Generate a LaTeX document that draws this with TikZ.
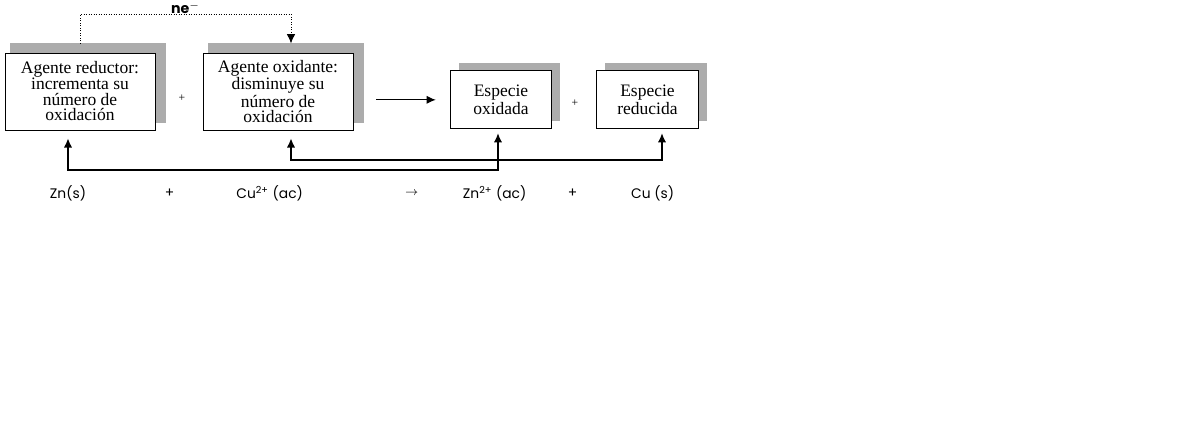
\documentclass[tikz,border=0pt]{standalone}
\usepackage{fontspec}
\setmainfont{Liberation Serif}
\newfontfamily\eqfont{Poppins}
\usetikzlibrary{arrows, arrows.meta, shadows, positioning}
\tikzset{
    boxnode/.style = {draw, rectangle, fill=white, line width=0.5pt, align=center, 
      node distance=0em, inner sep=0em, font=\fontsize{10.5}{9.4}\selectfont},
    bignode/.style = {boxnode, minimum width=90pt, minimum height=46.2pt, 
      general shadow={fill=gray!65, shadow xshift=4.8pt, shadow yshift=5.1pt, shadow scale=1.04}},
    smallnode/.style = {boxnode, minimum width=61pt, minimum height=34.8pt, 
      general shadow={fill=gray!65, shadow xshift=5pt, shadow yshift=4.5pt}},
    plusnode/.style = {draw=none, inner sep=0em, font=\scriptsize},
    eqnode/.style = {draw=none, inner sep=0em, node distance=0em, font=\eqfont\fontsize{8.3}{9}\selectfont},
    connect/.style = {black, line width=0.7pt, -{Latex[length=5.5pt, width=5pt]}},
    both/.style = {black, line width=0.8pt, {Latex[length=5.5pt, width=5pt]}-{Latex[length=5.5pt, width=5pt]}},
    transfer/.style = {black, densely dotted, line width=0.5pt, -{Latex[length=5.5pt, width=5pt]}}
}

\begin{document}
\begin{tikzpicture}[x=0.6pt, y=-0.6pt]
\useasboundingbox (0,0) rectangle (1200,433);

\node [bignode, name=reductor] at (80,91.5) {Agente reductor:\\incrementa su\\número de\\oxidación};
\node [bignode, name=oxidante, right of = reductor, xshift=118.8pt] {Agente oxidante:\\disminuye su\\número de\\oxidación};
\node [smallnode, name=oxidada, right of = oxidante, xshift=133.8pt, yshift=-5pt] {Especie\\oxidada};
\node [smallnode, name=reducida, right of = oxidada, xshift=87.9pt] {Especie\\reducida};

\node [plusnode, name=plusleft] at (182,98) {+};
\node [plusnode, name=plusright] at (575,103) {+};

\draw [connect, shorten <=13.8pt, shorten >=8.4pt] (oxidante.east |- oxidada.west) -- (oxidada.west);

% electrones transferidos
\draw [transfer] ([yshift=5.5pt]reductor.north) -- ++(0,-29) 
    -| node[pos=0.25, above, inner sep=0.2pt, font=\eqfont\bfseries\fontsize{8.5}{9}\selectfont] {ne$^-$} 
    ([xshift=7.8pt, yshift=5.5pt]oxidante.north);

\coordinate (lowrow) at (0,170);
\coordinate (highrow) at (0,160);
\draw [both, shorten <=4.8pt, shorten >=2.4pt] ([xshift=-7.2pt]reductor.south) 
    -- ([xshift=-7.2pt]reductor.south |- lowrow) -| ([xshift=-1.8pt]oxidada.south);
\draw [both, shorten <=4.8pt, shorten >=2.4pt] ([xshift=7.8pt]oxidante.south) 
    -- ([xshift=7.8pt]oxidante.south |- highrow) -| ([xshift=8.7pt]reducida.south);

% ecuacion
\node [eqnode, name=zn] at (68,193) {Zn(s)};
\node [eqnode, name=plusone, right of = zn, xshift=61pt] {+};
\node [eqnode, name=cu, right of = plusone, xshift=60pt] {Cu\textsuperscript{2+} (ac)};
\node [eqnode, name=yields, right of = cu, xshift=85.2pt] {\scriptsize$\rightarrow$};
\node [eqnode, name=zntwo, right of = yields, xshift=49.8pt] {Zn\textsuperscript{2+} (ac)};
\node [eqnode, name=plustwo, right of = zntwo, xshift=46.8pt] {+};
\node [eqnode, name=cus, right of = plustwo, xshift=48pt] {Cu (s)};
\end{tikzpicture}
\end{document}
